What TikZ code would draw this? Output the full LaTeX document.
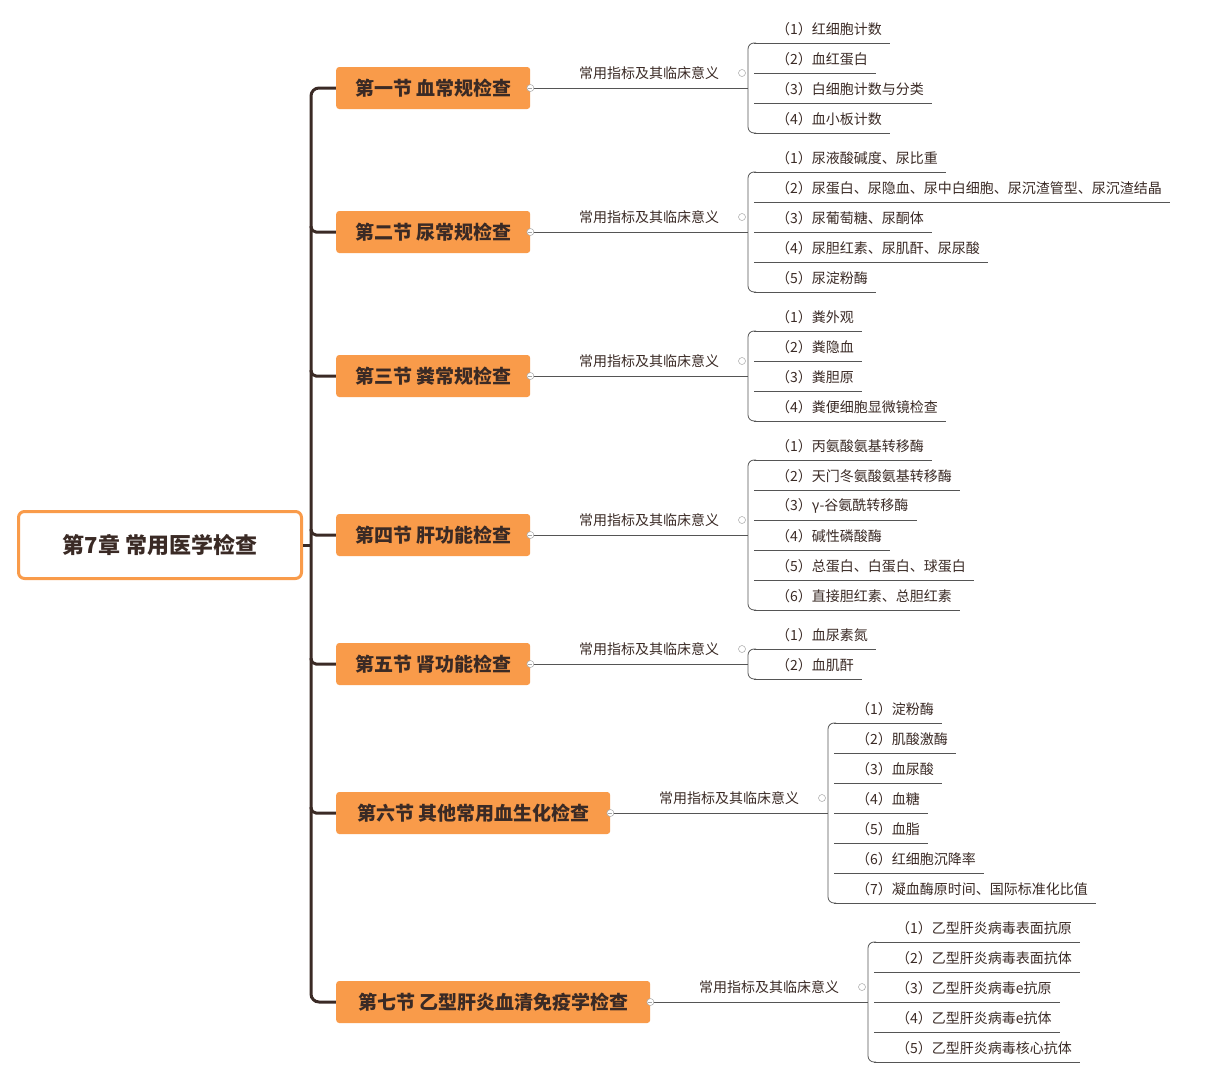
\documentclass[tikz,border=0pt]{standalone}
\usepackage{fontspec}
\setmainfont{Noto Sans CJK SC}
\usetikzlibrary{positioning}
\definecolor{mmorange}{HTML}{F99B4A}
\definecolor{mmtext}{HTML}{3A2A25}
\definecolor{mmline}{HTML}{555555}
\tikzset{
  root/.style={draw=mmorange,line width=3pt,rounded corners=6pt,fill=white,minimum width=283pt,minimum height=67pt,font=\fontsize{22}{26}\selectfont\bfseries,text=mmtext},
  sect/.style={fill=mmorange,rounded corners=3pt,minimum height=42pt,anchor=west,font=\fontsize{19}{23}\selectfont\bfseries,text=mmtext,inner xsep=14pt},
  lab/.style={font=\fontsize{14}{17}\selectfont,text=mmtext,inner sep=0pt},
  item/.style={font=\fontsize{14}{17}\selectfont,text=mmtext,anchor=west,inner ysep=0pt,inner xsep=8pt},
  conn/.style={draw=mmline,line width=0.8pt},
  trunk/.style={draw=mmtext,line width=3pt},
  knob/.style={circle,draw=gray!70,fill=white,inner sep=0pt,minimum size=7pt,line width=0.5pt}
}
% \branch{name}{y}{box right}{bracket x}{title}{items}
\newcommand{\branch}[6]{%
  \node[sect,minimum width=#3pt-336pt] (#1) at (336,#2) {#5};
  \foreach \t [count=\k] in {#6} {\xdef\nitems{\k}}
  \pgfmathsetmacro{\ytop}{#2-15*(\nitems-1)}
  \draw[conn] (#1.east) -- (#4,#2);
  \node[lab] (#1lab) at ({(#3+#4)/2+10},#2-15) {常用指标及其临床意义};
  \foreach \t [count=\k] in {#6} {
    \pgfmathsetmacro{\yu}{\ytop+30*(\k-1)}
    \node[item] (#1i\k) at (#4+20,\yu-14) {（\k）\t};
    \draw[conn] (#4+6,\yu) -- (#1i\k.east |- 0,\yu);
  }
  \draw[conn,rounded corners=6pt] (#4+8,\ytop) -- (#4,\ytop) -- (#4,{\ytop+30*(\nitems-1)}) -- (#4+8,{\ytop+30*(\nitems-1)});
  \node[knob] at (#1.east) {};
  \node[knob] at (#4-6,#2-15) {};
  \draw[gray!70,line width=0.5pt] ([xshift=-2pt]#1.east) -- ([xshift=2pt]#1.east);
}
\begin{document}
\begin{tikzpicture}[x=1pt,y=-1pt]
\useasboundingbox (0,0) rectangle (1209,1079);
\node[root] (chap) at (160,545) {第7章 常用医学检查};
\draw[trunk] (chap.east) -- (311,545);
\draw[trunk,rounded corners=8pt] (338,88) -- (311,88) -- (311,1002) -- (338,1002);
\foreach \y in {232,376,535,664,813} \draw[trunk,rounded corners=5pt] (311,\y-6) -- (311,\y) -- (338,\y);
\branch{sec1}{88}{530}{748}{第一节 血常规检查}{红细胞计数,血红蛋白,白细胞计数与分类,血小板计数}
\branch{sec2}{232}{530}{748}{第二节 尿常规检查}{尿液酸碱度、尿比重,尿蛋白、尿隐血、尿中白细胞、尿沉渣管型、尿沉渣结晶,尿葡萄糖、尿酮体,尿胆红素、尿肌酐、尿尿酸,尿淀粉酶}
\branch{sec3}{376}{530}{748}{第三节 粪常规检查}{粪外观,粪隐血,粪胆原,粪便细胞显微镜检查}
\branch{sec4}{535}{530}{748}{第四节 肝功能检查}{丙氨酸氨基转移酶,天门冬氨酸氨基转移酶,γ-谷氨酰转移酶,碱性磷酸酶,总蛋白、白蛋白、球蛋白,直接胆红素、总胆红素}
\branch{sec5}{664}{530}{748}{第五节 肾功能检查}{血尿素氮,血肌酐}
\branch{sec6}{813}{610}{828}{第六节 其他常用血生化检查}{淀粉酶,肌酸激酶,血尿酸,血糖,血脂,红细胞沉降率,凝血酶原时间、国际标准化比值}
\branch{sec7}{1002}{650}{868}{第七节 乙型肝炎血清免疫学检查}{乙型肝炎病毒表面抗原,乙型肝炎病毒表面抗体,乙型肝炎病毒e抗原,乙型肝炎病毒e抗体,乙型肝炎病毒核心抗体}
\end{tikzpicture}
\end{document}
